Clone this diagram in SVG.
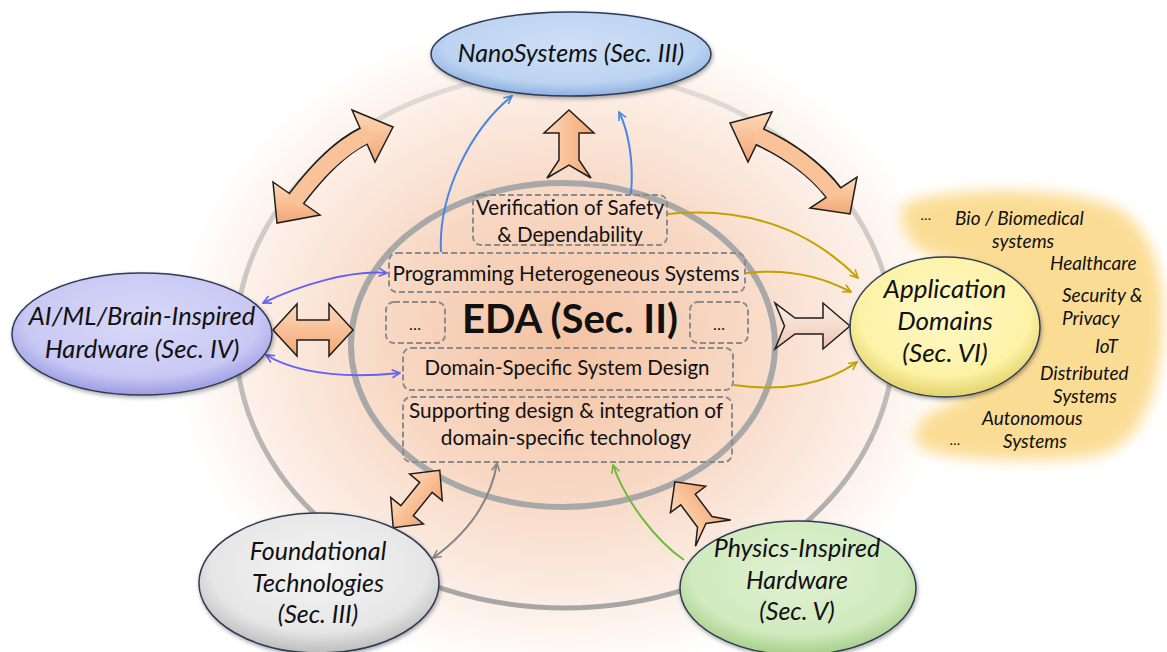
<svg xmlns="http://www.w3.org/2000/svg" width="1167" height="652" viewBox="0 0 1167 652">
<defs>
  <radialGradient id="glow" cx="563" cy="345" r="1" gradientUnits="userSpaceOnUse" gradientTransform="translate(563 345) scale(390 330) translate(-563 -345)">
    <stop offset="0" stop-color="#f4c3a3"/>
    <stop offset="0.45" stop-color="#f8d8c4"/>
    <stop offset="0.8" stop-color="#fcefe7"/>
    <stop offset="1" stop-color="#ffffff"/>
  </radialGradient>
  <linearGradient id="ringGrad" x1="0" y1="72" x2="0" y2="608" gradientUnits="userSpaceOnUse">
    <stop offset="0" stop-color="#e4dcd6"/>
    <stop offset="1" stop-color="#a6a6a6"/>
  </linearGradient>
  <radialGradient id="gNano" cx="0.5" cy="0.4" r="0.6">
    <stop offset="0" stop-color="#cfe0f6"/>
    <stop offset="0.75" stop-color="#bcd3f1"/>
    <stop offset="1" stop-color="#8eb1e0"/>
  </radialGradient>
  <radialGradient id="gAI" cx="0.5" cy="0.4" r="0.6">
    <stop offset="0" stop-color="#d9d9f9"/>
    <stop offset="0.75" stop-color="#c8c8f4"/>
    <stop offset="1" stop-color="#9c9ce2"/>
  </radialGradient>
  <radialGradient id="gApp" cx="0.5" cy="0.4" r="0.6">
    <stop offset="0" stop-color="#fff9c8"/>
    <stop offset="0.75" stop-color="#fdf2a6"/>
    <stop offset="1" stop-color="#e2d36a"/>
  </radialGradient>
  <radialGradient id="gFound" cx="0.5" cy="0.4" r="0.6">
    <stop offset="0" stop-color="#f4f4f4"/>
    <stop offset="0.75" stop-color="#e6e6e6"/>
    <stop offset="1" stop-color="#bdbdbd"/>
  </radialGradient>
  <radialGradient id="gPhys" cx="0.5" cy="0.4" r="0.6">
    <stop offset="0" stop-color="#e0f1d2"/>
    <stop offset="0.75" stop-color="#d1eabe"/>
    <stop offset="1" stop-color="#a6cf8a"/>
  </radialGradient>
  <linearGradient id="peach" x1="0" y1="0" x2="0" y2="1">
    <stop offset="0" stop-color="#fcd9b9"/>
    <stop offset="0.5" stop-color="#f9c096"/>
    <stop offset="1" stop-color="#f1a675"/>
  </linearGradient>
  <linearGradient id="pale" x1="0" y1="0" x2="0" y2="1">
    <stop offset="0" stop-color="#fbece4"/>
    <stop offset="0.5" stop-color="#f6dccf"/>
    <stop offset="1" stop-color="#e9c2b0"/>
  </linearGradient>
  <filter id="blur" x="-20%" y="-20%" width="140%" height="140%">
    <feGaussianBlur stdDeviation="7"/>
  </filter>
  <filter id="shadow" x="-10%" y="-10%" width="120%" height="130%">
    <feGaussianBlur in="SourceAlpha" stdDeviation="2"/>
    <feOffset dx="1" dy="2" result="o"/>
    <feComponentTransfer><feFuncA type="linear" slope="0.35"/></feComponentTransfer>
    <feMerge><feMergeNode/><feMergeNode in="SourceGraphic"/></feMerge>
  </filter>
  <marker id="mBlue" viewBox="0 0 10 10" refX="9" refY="5" markerWidth="5" markerHeight="5" orient="auto-start-reverse">
    <path d="M1,1 L9,5 L1,9" fill="none" stroke="#4a86e8" stroke-width="1.6"/>
  </marker>
  <marker id="mPurple" viewBox="0 0 10 10" refX="9" refY="5" markerWidth="5" markerHeight="5" orient="auto-start-reverse">
    <path d="M1,1 L9,5 L1,9" fill="none" stroke="#6262f5" stroke-width="1.6"/>
  </marker>
  <marker id="mGold" viewBox="0 0 10 10" refX="9" refY="5" markerWidth="5" markerHeight="5" orient="auto-start-reverse">
    <path d="M1,1 L9,5 L1,9" fill="none" stroke="#c2a200" stroke-width="1.6"/>
  </marker>
  <marker id="mGrey" viewBox="0 0 10 10" refX="9" refY="5" markerWidth="5" markerHeight="5" orient="auto-start-reverse">
    <path d="M1,1 L9,5 L1,9" fill="none" stroke="#858585" stroke-width="1.6"/>
  </marker>
  <marker id="mGreen" viewBox="0 0 10 10" refX="9" refY="5" markerWidth="5" markerHeight="5" orient="auto-start-reverse">
    <path d="M1,1 L9,5 L1,9" fill="none" stroke="#6cbb3c" stroke-width="1.6"/>
  </marker>
  <style>
    .t { font-family: "Lato", "Liberation Sans", sans-serif; fill: #111; }
    .it { font-style: italic; }
    .node { stroke: #2f3b55; stroke-width: 1.5; filter: url(#shadow); }
    .box { fill: none; stroke: #8c8c8c; stroke-width: 2; stroke-dasharray: 6 3; }
    .fat { fill: url(#peach); stroke: #1e1e1e; stroke-width: 1.5; stroke-linejoin: miter; }
    .shaftOut { fill: none; stroke: #1e1e1e; stroke-width: 19; }
    .shaftIn { fill: none; stroke: #f9c299; stroke-width: 16; }
    .conn { fill: none; stroke-width: 2; }
  </style>
</defs>

<rect width="1167" height="652" fill="#ffffff"/>

<!-- background glow and rings -->
<g id="background">
  <ellipse cx="563" cy="345" rx="390" ry="330" fill="url(#glow)"/>
  <ellipse cx="565" cy="340" rx="329" ry="268" fill="none" stroke="url(#ringGrad)" stroke-width="5"/>
  <ellipse cx="563" cy="345" rx="212" ry="162" fill="none" stroke="#a8a8a8" stroke-width="6"/>
  <path d="M902,205 C940,186 1060,186 1110,205 C1160,225 1170,300 1160,360 C1150,420 1130,455 1080,458 C1030,462 960,462 925,450 C905,440 915,412 960,400 L1000,330 L960,262 C920,258 898,240 902,205 Z" fill="#fbd98a" opacity="0.9" filter="url(#blur)"/>
</g>

<!-- big 3D arrows -->
<g id="bigArrows">
  <g id="arrowTL">
    <path class="shaftOut" d="M296.5,198.5 C312,178 335,150 363.5,136"/>
    <polygon class="fat" points="277,223 273,182 320,215"/>
    <polygon class="fat" points="393,127 352,110 375,162"/>
    <path class="shaftIn" d="M293,203 C312,178 335,150 368,134"/>
  </g>
  <g id="arrowTR">
    <path class="shaftOut" d="M760,137 C785,148 815,168 833.5,192.5"/>
    <polygon class="fat" points="730,123 772,112 748,162"/>
    <polygon class="fat" points="850,214 857,177 810,208"/>
    <path class="shaftIn" d="M756,135 C785,148 815,168 836,196"/>
  </g>
  <polygon id="arrowUp" class="fat" transform="translate(569,144) rotate(-90)" points="34,0 11,-25 11,-10 -16,-10 -34,-22 -21,0 -34,22 -16,10 11,10 11,25"/>
  <polygon id="arrowLeft" class="fat" transform="translate(313,330)" points="-40,0 -16,-26 -16,-10 16,-10 16,-26 40,0 16,26 16,10 -16,10 -16,26"/>
  <polygon id="arrowRight" class="fat" style="fill:url(#pale)" transform="translate(812.5,326)" points="37.5,0 10.5,-23 10.5,-8 -17.5,-8 -37.5,-23 -28,0 -37.5,23 -17.5,8 10.5,8 10.5,23"/>
  <polygon id="arrowBL" class="fat" transform="translate(416.5,499) rotate(-51)" points="-37,0 -15,-21 -15,-8 15,-8 15,-21 37,0 15,21 15,8 -15,8 -15,21"/>
  <polygon id="arrowPhys" class="fat" transform="translate(694,507.5) rotate(-126.7)" points="32,0 10,-22 10,-9 -18,-9 -32,-22 -20,0 -32,22 -18,9 10,9 10,22"/>
</g>

<!-- EDA core -->
<g id="eda">
  <text class="t" x="570" y="333" font-size="40" font-weight="bold" text-anchor="middle">EDA (Sec. II)</text>
</g>
<g id="verification">
  <rect class="box" x="473" y="195" width="194" height="50" rx="8"/>
  <text class="t" x="570" y="215" font-size="20.5" text-anchor="middle">Verification of Safety</text>
  <text class="t" x="570" y="242" font-size="20.5" text-anchor="middle">&amp; Dependability</text>
</g>
<g id="programming">
  <rect class="box" x="389" y="253" width="356" height="39" rx="8"/>
  <text class="t" x="566" y="281" font-size="20.8" text-anchor="middle">Programming Heterogeneous Systems</text>
</g>
<g id="dotsLeft">
  <rect class="box" x="386" y="302" width="59" height="41" rx="8"/>
  <text class="t" x="415" y="330" font-size="16" text-anchor="middle">…</text>
</g>
<g id="dotsRight">
  <rect class="box" x="690" y="302" width="58" height="41" rx="8"/>
  <text class="t" x="719" y="330" font-size="16" text-anchor="middle">…</text>
</g>
<g id="domainDesign">
  <rect class="box" x="403" y="348" width="330" height="42" rx="8"/>
  <text class="t" x="567" y="375" font-size="20.5" text-anchor="middle">Domain-Specific System Design</text>
</g>
<g id="supporting">
  <rect class="box" x="403" y="397" width="329" height="65" rx="8"/>
  <text class="t" x="566" y="418" font-size="20.8" text-anchor="middle">Supporting design &amp; integration of</text>
  <text class="t" x="566" y="445" font-size="20.8" text-anchor="middle">domain-specific technology</text>
</g>

<!-- connectors -->
<g id="connectors">
  <path class="conn" stroke="#4a86e8" marker-end="url(#mBlue)" d="M441,252 C438,195 470,130 512,96"/>
  <path class="conn" stroke="#4a86e8" marker-end="url(#mBlue)" d="M631,194 C634,160 628,130 619,112"/>
  <path class="conn" stroke="#6262f5" marker-start="url(#mPurple)" marker-end="url(#mPurple)" d="M263,303 C300,285 350,270 387,273"/>
  <path class="conn" stroke="#6262f5" marker-start="url(#mPurple)" marker-end="url(#mPurple)" d="M266,355 C300,375 350,378 400,373"/>
  <path class="conn" stroke="#c2a200" marker-end="url(#mGold)" d="M668,214 C760,205 820,240 858,278"/>
  <path class="conn" stroke="#c2a200" marker-end="url(#mGold)" d="M746,273 C790,268 825,278 851,292"/>
  <path class="conn" stroke="#c2a200" marker-end="url(#mGold)" d="M734,385 C780,392 825,385 857,362"/>
  <path class="conn" stroke="#858585" marker-start="url(#mGrey)" marker-end="url(#mGrey)" d="M497,463 C490,505 465,535 433,558"/>
  <path class="conn" stroke="#6cbb3c" marker-end="url(#mGreen)" d="M684,560 C655,540 625,500 613,465"/>
</g>

<!-- outer nodes -->
<g id="nanosystems">
  <ellipse class="node" cx="571" cy="54" rx="140" ry="42" fill="url(#gNano)"/>
  <text class="t it" x="571" y="62" font-size="25" text-anchor="middle">NanoSystems (Sec. III)</text>
</g>
<g id="aiml">
  <ellipse class="node" cx="142" cy="334" rx="130" ry="61" fill="url(#gAI)"/>
  <text class="t it" x="142" y="325" font-size="25.5" text-anchor="middle">AI/ML/Brain-Inspired</text>
  <text class="t it" x="142" y="358" font-size="25.5" text-anchor="middle">Hardware (Sec. IV)</text>
</g>
<g id="application">
  <ellipse class="node" cx="945" cy="327" rx="95" ry="70" fill="url(#gApp)"/>
  <text class="t it" x="945" y="298" font-size="26" text-anchor="middle">Application</text>
  <text class="t it" x="945" y="330" font-size="26" text-anchor="middle">Domains</text>
  <text class="t it" x="945" y="362" font-size="26" text-anchor="middle">(Sec. VI)</text>
</g>
<g id="foundational">
  <ellipse class="node" cx="319" cy="583" rx="120" ry="70" fill="url(#gFound)"/>
  <text class="t it" x="318" y="560" font-size="25" text-anchor="middle">Foundational</text>
  <text class="t it" x="318" y="592" font-size="25" text-anchor="middle">Technologies</text>
  <text class="t it" x="318" y="623" font-size="25" text-anchor="middle">(Sec. III)</text>
</g>
<g id="physics">
  <ellipse class="node" cx="798" cy="588" rx="118" ry="67" fill="url(#gPhys)"/>
  <text class="t it" x="797" y="557" font-size="25" text-anchor="middle">Physics-Inspired</text>
  <text class="t it" x="797" y="589" font-size="25" text-anchor="middle">Hardware</text>
  <text class="t it" x="797" y="620" font-size="25" text-anchor="middle">(Sec. V)</text>
</g>

<!-- application domain examples -->
<g id="domainList" class="t it" font-size="19">
  <text x="921" y="220" font-size="14">…</text>
  <text x="955" y="225">Bio / Biomedical</text>
  <text x="992" y="248">systems</text>
  <text x="1050" y="270">Healthcare</text>
  <text x="1062" y="302">Security &amp;</text>
  <text x="1062" y="325">Privacy</text>
  <text x="1095" y="353">IoT</text>
  <text x="1040" y="380">Distributed</text>
  <text x="1053" y="403">Systems</text>
  <text x="982" y="425">Autonomous</text>
  <text x="950" y="445" font-size="14">…</text>
  <text x="1003" y="448">Systems</text>
</g>
</svg>
